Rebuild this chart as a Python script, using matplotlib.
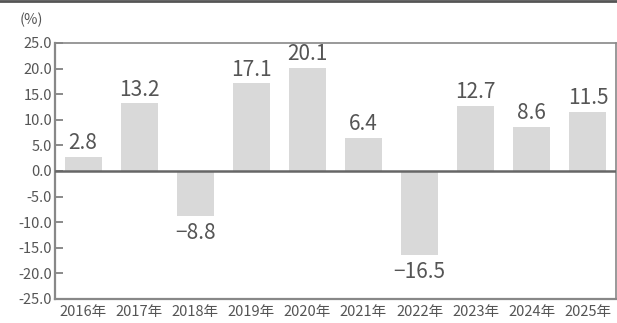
import matplotlib
matplotlib.use('Agg')
import matplotlib.pyplot as plt
from matplotlib.lines import Line2D

plt.rcParams['font.family'] = ['Noto Sans CJK JP', 'DejaVu Sans']

years = ['2016年', '2017年', '2018年', '2019年', '2020年',
         '2021年', '2022年', '2023年', '2024年', '2025年']
growth = [2.8, 13.2, -8.8, 17.1, 20.1, 6.4, -16.5, 12.7, 8.6, 11.5]
yticks = [25, 20, 15, 10, 5, 0, -5, -10, -15, -20, -25]

text_col = '#555555'
bar_col = '#d9d9d9'

fig = plt.figure(figsize=(6.17, 3.23), dpi=100)
ax = fig.add_axes([55 / 617, 24 / 323, 561 / 617, 256 / 323])

x = list(range(len(years)))
ax.bar(x, growth, width=0.66, color=bar_col, zorder=2)

for i in range(len(growth)):
    v = growth[i]
    if v >= 0:
        ax.annotate(f'{v:.1f}', (x[i], v), xytext=(0, 2), textcoords='offset points',
                    ha='center', va='bottom', fontsize=15, color=text_col)
    else:
        ax.annotate(f'\u2212{abs(v):.1f}', (x[i], v), xytext=(0, -4), textcoords='offset points',
                    ha='center', va='top', fontsize=15, color=text_col)

ax.axhline(0, color='#666666', linewidth=1.8, zorder=3)

ax.set_xlim(-0.5, len(years) - 0.5)
ax.set_ylim(-25, 25)
ax.set_yticks(yticks)
ax.set_yticklabels([f'{t:.1f}' for t in yticks])
ax.set_xticks(x)
ax.set_xticklabels(years)
ax.tick_params(axis='y', direction='in', length=6, width=1.2, color='#777777',
               labelsize=10.5, labelcolor=text_col, pad=2)
ax.tick_params(axis='x', length=0, labelsize=10.5, labelcolor=text_col, pad=4)

for s in ax.spines.values():
    s.set_color('#888888')
    s.set_linewidth(1.2)
ax.spines['left'].set_linewidth(1.6)
ax.spines['bottom'].set_linewidth(1.6)

fig.text(20 / 617, 1 - 20 / 323, '(%)', fontsize=10.5, color=text_col, va='center')
fig.add_artist(Line2D([0, 1], [1 - 1 / 323, 1 - 1 / 323], color='#555555', linewidth=2,
                      transform=fig.transFigure))

fig.savefig('out.png', dpi=100)
